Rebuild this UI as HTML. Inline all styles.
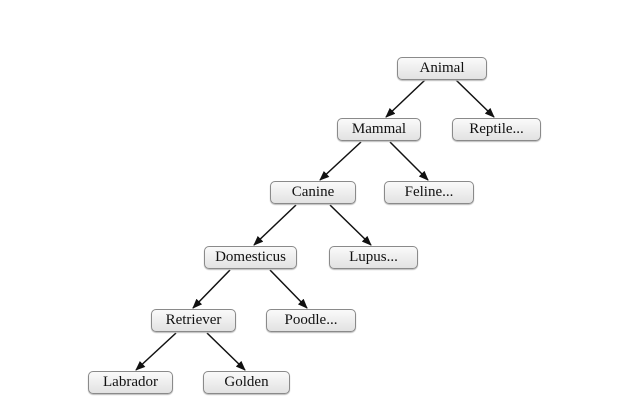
<!DOCTYPE html>
<html><head><style>
body{margin:0;background:#fff;width:626px;height:420px;overflow:hidden;position:relative;font-family:"Liberation Serif",serif;}
.b{position:absolute;height:21px;border:1px solid #8a8a8a;border-radius:5px;background:linear-gradient(#fafafa,#e2e2e2);box-sizing:content-box;text-align:center;line-height:21px;font-size:15px;color:#111;box-shadow:0 1px 1px #bbb;}
svg{position:absolute;left:0;top:0}
</style></head><body>
<svg width="626" height="420">
<defs><marker id="a" markerWidth="10" markerHeight="8" refX="9" refY="4" orient="auto" markerUnits="userSpaceOnUse"><path d="M0,0 L10,4 L0,8 z" fill="#111"/></marker></defs>
<g stroke="#111" stroke-width="1.5" marker-end="url(#a)">
<line x1="425" y1="80" x2="386" y2="117"/>
<line x1="456" y1="80" x2="494" y2="117"/>
<line x1="361" y1="142" x2="320" y2="180"/>
<line x1="390" y1="142" x2="428" y2="180"/>
<line x1="296" y1="205" x2="254" y2="245"/>
<line x1="330" y1="205" x2="371" y2="245"/>
<line x1="230" y1="270" x2="193" y2="308"/>
<line x1="270" y1="270" x2="307" y2="308"/>
<line x1="176" y1="333" x2="136" y2="370"/>
<line x1="207" y1="333" x2="245" y2="370"/>
</g></svg>
<div class="b" style="left:397px;top:57px;width:88px">Animal</div>
<div class="b" style="left:337px;top:118px;width:82px">Mammal</div>
<div class="b" style="left:452px;top:118px;width:87px">Reptile...</div>
<div class="b" style="left:270px;top:181px;width:84px">Canine</div>
<div class="b" style="left:384px;top:181px;width:88px">Feline...</div>
<div class="b" style="left:204px;top:246px;width:91px">Domesticus</div>
<div class="b" style="left:329px;top:246px;width:87px">Lupus...</div>
<div class="b" style="left:151px;top:309px;width:83px">Retriever</div>
<div class="b" style="left:266px;top:309px;width:88px">Poodle...</div>
<div class="b" style="left:88px;top:371px;width:83px">Labrador</div>
<div class="b" style="left:203px;top:371px;width:85px">Golden</div>
</body></html>
